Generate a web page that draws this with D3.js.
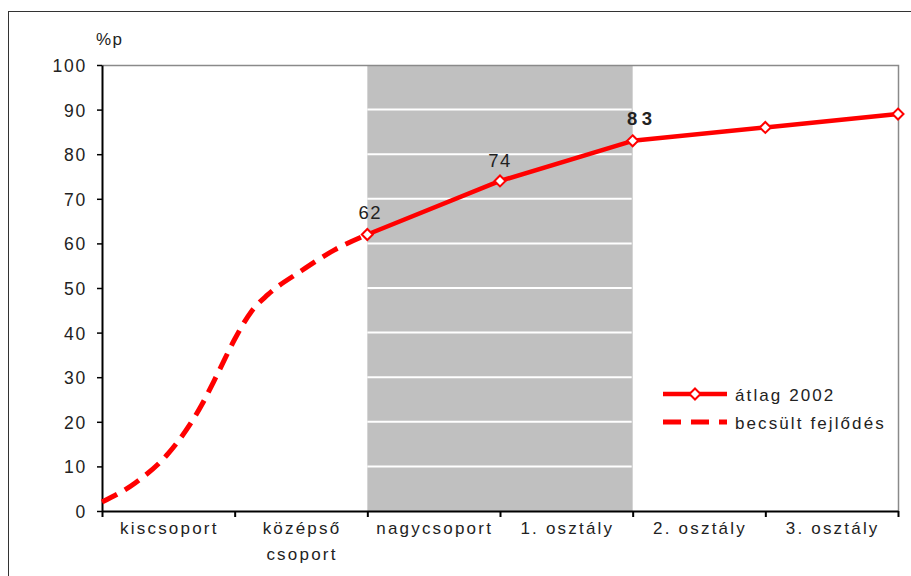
<!DOCTYPE html>
<html>
<head>
<meta charset="utf-8">
<script src="https://cdn.jsdelivr.net/npm/d3@7"></script>
<style>
  html, body { margin: 0; padding: 0; background: #fff; }
  svg { display: block; }
  text { font-family: "Liberation Sans", Arial, sans-serif; fill: #222; }
</style>
</head>
<body>
<svg id="chart" width="911" height="576"></svg>
<script>
// Stages of schooling along the horizontal axis (one band per stage)
const categories = ["kiscsoport", "középső\ncsoport", "nagycsoport", "1. osztály", "2. osztály", "3. osztály"];
const yTicks = [0, 10, 20, 30, 40, 50, 60, 70, 80, 90, 100];

// Measured average (2002), positioned on the stage boundaries
const measuredStages = [2, 3, 4, 5, 6];
const measuredValues = [62, 74, 83, 86, 89];
const valueLabels = ["62", "74", "83", "", "89"];
const boldLabels = [false, false, true, false, false];

// Estimated development before nagycsoport
const estimatedStages = [0, 0.25, 0.5, 0.75, 0.875, 1, 1.125, 1.25, 1.5, 1.75, 2];
const estimatedValues = [2, 6.3, 12.9, 23.7, 31, 38.5, 44.7, 48.5, 53.8, 58.5, 62];

// Shaded stage span and legend entries
const shadedSpan = [2, 4];
const seriesNames = ["átlag 2002", "becsült fejlődés"];

const RED = "#ff0000";
const svg = d3.select("#chart");

const plot = { left: 102, right: 898, top: 65, bottom: 511 };
const x = d3.scaleLinear().domain([0, categories.length]).range([plot.left, plot.right]);
const y = d3.scaleLinear().domain([0, 100]).range([plot.bottom, plot.top]);

// outer frame
svg.append("rect")
  .attr("x", 8.5).attr("y", 11.5).attr("width", 1000).attr("height", 1000)
  .attr("fill", "none").attr("stroke", "#333").attr("stroke-width", 1);

// shaded band
svg.append("rect")
  .attr("x", x(shadedSpan[0])).attr("y", y(100))
  .attr("width", x(shadedSpan[1]) - x(shadedSpan[0]))
  .attr("height", y(0) - y(100))
  .attr("fill", "#c0c0c0");

// white gridlines (visible over the band)
svg.append("g").selectAll("line")
  .data(yTicks.filter(t => t > 0 && t < 100))
  .join("line")
  .attr("x1", x(shadedSpan[0])).attr("x2", x(shadedSpan[1]) - 1)
  .attr("y1", d => y(d)).attr("y2", d => y(d))
  .attr("stroke", "#fff").attr("stroke-width", 2);

// plot border (top and right)
svg.append("path")
  .attr("d", `M${x(0)},${y(100) + 0.5}H${x(categories.length) + 0.5}V${y(0)}`)
  .attr("fill", "none").attr("stroke", "#8a8a8a").attr("stroke-width", 1.5);

// y axis
const yAxis = svg.append("g")
  .attr("transform", `translate(${plot.left},0)`)
  .call(d3.axisLeft(y).tickValues(yTicks).tickSize(5).tickSizeOuter(0).tickPadding(0));
yAxis.select(".domain").attr("stroke", "#000").attr("stroke-width", 2);
yAxis.selectAll(".tick line").attr("stroke", "#000").attr("stroke-width", 1.5);
yAxis.selectAll(".tick text")
  .attr("x", -15).attr("dy", null).attr("y", 6.5)
  .style("font-family", '"Liberation Sans", Arial, sans-serif')
  .style("font-size", "17.5px").style("letter-spacing", "1.8px")
  .attr("fill", "#222");

// x axis
const xAxis = svg.append("g")
  .attr("transform", `translate(0,${plot.bottom})`)
  .call(d3.axisBottom(x).tickValues(d3.range(categories.length + 1)).tickSize(6).tickSizeOuter(0).tickFormat(""));
xAxis.select(".domain").attr("stroke", "#000").attr("stroke-width", 2);
xAxis.selectAll(".tick line").attr("stroke", "#000").attr("stroke-width", 2);

// category labels centred in each band
const catText = svg.append("g").selectAll("text")
  .data(categories)
  .join("text")
  .attr("x", (d, i) => x(i + 0.5) + 1)
  .attr("y", 534)
  .attr("text-anchor", "middle")
  .style("font-size", "17px").style("letter-spacing", "2.2px");
catText.each(function (d) {
  const t = d3.select(this);
  d.split("\n").forEach((line, k) => {
    t.append("tspan").attr("x", t.attr("x")).attr("dy", k === 0 ? 0 : 26).text(line);
  });
});

// y axis unit
svg.append("text").attr("x", 96).attr("y", 45)
  .style("font-size", "17px").style("letter-spacing", "1.5px").text("%p");

// estimated development (dashed)
const curve = d3.line()
  .x((d, i) => x(estimatedStages[i]))
  .y(d => y(d))
  .curve(d3.curveMonotoneX);
svg.append("path")
  .attr("d", curve(estimatedValues))
  .attr("fill", "none").attr("stroke", RED)
  .attr("stroke-width", 5).attr("stroke-dasharray", "17,9");

// measured average (solid)
const line = d3.line()
  .x((d, i) => x(measuredStages[i]))
  .y(d => y(d));
svg.append("path")
  .attr("d", line(measuredValues))
  .attr("fill", "none").attr("stroke", RED).attr("stroke-width", 4.5)
  .attr("stroke-linejoin", "round");

const diamond = r => `M0,${-r}L${r},0L0,${r}L${-r},0Z`;
svg.append("g").selectAll("path")
  .data(measuredValues)
  .join("path")
  .attr("transform", (d, i) => `translate(${x(measuredStages[i])},${y(d)})`)
  .attr("d", diamond(5.5))
  .attr("fill", "#fff").attr("stroke", RED).attr("stroke-width", 2);

// value labels
const labelOffsets = [[3, -15.5], [0, -14], [9, -16], [0, 0], [-18, -11]];
svg.append("g").selectAll("text")
  .data(measuredValues)
  .join("text")
  .filter((d, i) => valueLabels[i] !== "")
  .attr("x", (d, i) => x(measuredStages[i]) + labelOffsets[i][0])
  .attr("y", (d, i) => y(d) + labelOffsets[i][1])
  .attr("text-anchor", "middle")
  .style("font-size", "18.5px")
  .style("font-weight", (d, i) => boldLabels[i] ? "bold" : "normal")
  .style("letter-spacing", (d, i) => boldLabels[i] ? "4.5px" : "1.5px")
  .attr("fill", (d, i) => boldLabels[i] ? "#000" : "#222")
  .text((d, i) => valueLabels[i]);

// legend
const legend = svg.append("g");
const legendRows = [394, 422];
legend.append("line")
  .attr("x1", 663).attr("x2", 727).attr("y1", legendRows[0]).attr("y2", legendRows[0])
  .attr("stroke", RED).attr("stroke-width", 4.5);
legend.append("path")
  .attr("transform", `translate(695,${legendRows[0]})`)
  .attr("d", diamond(5.5))
  .attr("fill", "#fff").attr("stroke", RED).attr("stroke-width", 2);
legend.append("line")
  .attr("x1", 663).attr("x2", 727).attr("y1", legendRows[1]).attr("y2", legendRows[1])
  .attr("stroke", RED).attr("stroke-width", 5).attr("stroke-dasharray", "18,10");
legend.selectAll("text")
  .data(seriesNames)
  .join("text")
  .attr("x", 735)
  .attr("y", (d, i) => legendRows[i] + 6.5)
  .style("font-size", "17px").style("letter-spacing", "2.1px")
  .text(d => d);
</script>
</body>
</html>
